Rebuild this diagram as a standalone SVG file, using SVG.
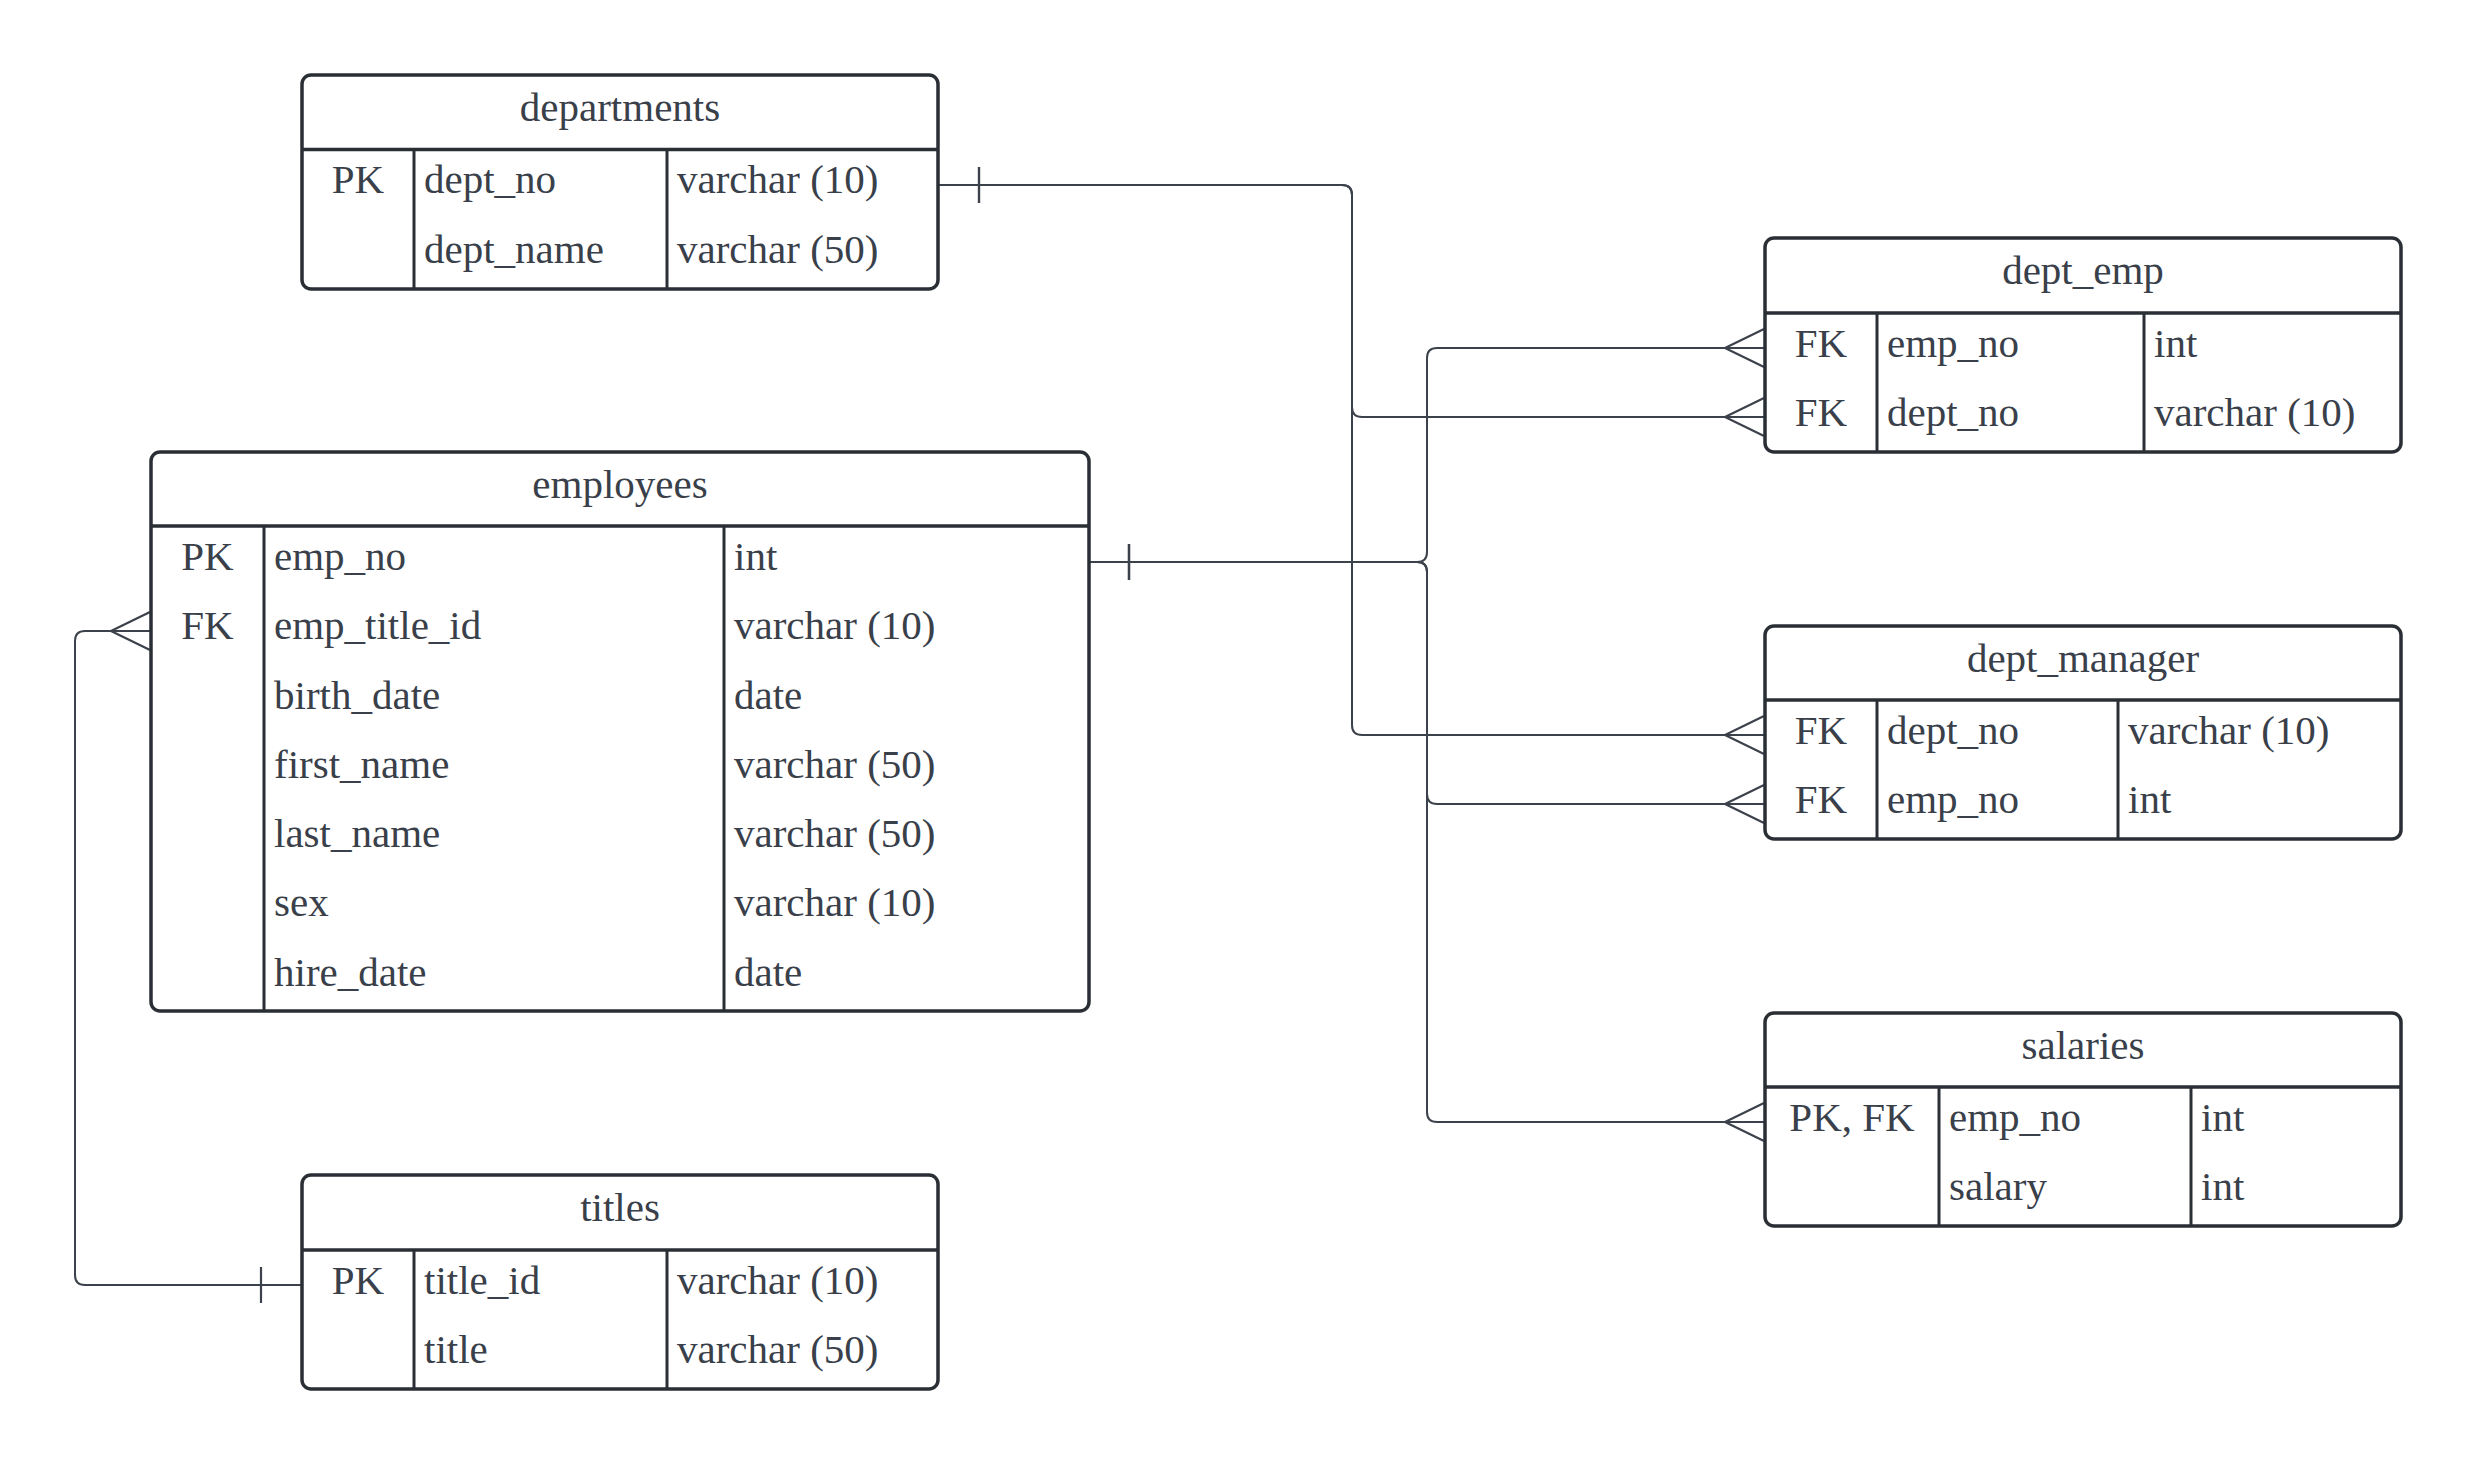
<svg xmlns="http://www.w3.org/2000/svg" width="2477" height="1464" viewBox="0 0 2477 1464">
  <style>
    .frame { fill: #ffffff; stroke: #2a2e35; stroke-width: 3.5; }
    .sep { stroke: #2a2e35; stroke-width: 3.5; }
    .col { stroke: #2a2e35; stroke-width: 3; }
    .t { font-family: "Liberation Serif", "Times New Roman", serif; font-size: 41px; fill: #39404a; }
    .h { text-anchor: middle; }
    .k { text-anchor: middle; }
    .link { fill: none; stroke: #3c424b; stroke-width: 2; }
    .mk { fill: none; stroke: #3c424b; stroke-width: 2.2; }
  </style>
  <defs>
    <!-- crow's foot (many) at the end of a relationship line -->
    <marker id="many" markerUnits="userSpaceOnUse" orient="auto" overflow="visible" markerWidth="1" markerHeight="1" refX="0" refY="0">
      <path class="mk" d="M0 -19 L-39 0 L0 19"/>
    </marker>
    <!-- single bar (one) near the start of a relationship line -->
    <marker id="one" markerUnits="userSpaceOnUse" orient="auto" overflow="visible" markerWidth="1" markerHeight="1" refX="0" refY="0">
      <path class="mk" d="M40 -18 L40 18"/>
    </marker>
  </defs>

  <rect width="2477" height="1464" fill="#ffffff"/>

  <!-- relationships -->
  <g id="connectors">
    <!-- departments.dept_no -> dept_emp.dept_no -->
    <path class="link" marker-start="url(#one)" marker-end="url(#many)" d="M939 185 H1342 Q1352 185 1352 195 V407 Q1352 417 1362 417 H1764"/>
    <!-- departments.dept_no -> dept_manager.dept_no -->
    <path class="link" marker-start="url(#one)" marker-end="url(#many)" d="M939 185 H1342 Q1352 185 1352 195 V725 Q1352 735 1362 735 H1764"/>
    <!-- employees.emp_no -> dept_emp.emp_no -->
    <path class="link" marker-start="url(#one)" marker-end="url(#many)" d="M1089 562 H1417 Q1427 562 1427 552 V358 Q1427 348 1437 348 H1764"/>
    <!-- employees.emp_no -> dept_manager.emp_no -->
    <path class="link" marker-start="url(#one)" marker-end="url(#many)" d="M1089 562 H1417 Q1427 562 1427 572 V794 Q1427 804 1437 804 H1764"/>
    <!-- employees.emp_no -> salaries.emp_no -->
    <path class="link" marker-start="url(#one)" marker-end="url(#many)" d="M1089 562 H1417 Q1427 562 1427 572 V1112 Q1427 1122 1437 1122 H1764"/>
    <!-- titles.title_id -> employees.emp_title_id -->
    <path class="link" marker-start="url(#one)" marker-end="url(#many)" d="M301 1285 H85 Q75 1285 75 1275 V641 Q75 631 85 631 H150"/>
  </g>

  <!-- departments -->
  <g id="departments">
    <rect class="frame" x="302" y="75" width="636" height="214" rx="9"/>
    <line class="sep" x1="302" y1="149.5" x2="938" y2="149.5"/>
    <line class="col" x1="414" y1="149.5" x2="414" y2="289"/>
    <line class="col" x1="667" y1="149.5" x2="667" y2="289"/>
    <text class="t h" x="620" y="121">departments</text>
    <text class="t k" x="358" y="193">PK</text>
    <text class="t" x="424" y="193">dept_no</text>
    <text class="t" x="677" y="193">varchar (10)</text>
    <text class="t" x="424" y="263">dept_name</text>
    <text class="t" x="677" y="263">varchar (50)</text>
  </g>

  <!-- employees -->
  <g id="employees">
    <rect class="frame" x="151" y="452" width="938" height="559" rx="9"/>
    <line class="sep" x1="151" y1="526" x2="1089" y2="526"/>
    <line class="col" x1="264" y1="526" x2="264" y2="1011"/>
    <line class="col" x1="724" y1="526" x2="724" y2="1011"/>
    <text class="t h" x="620" y="498">employees</text>
    <text class="t k" x="207.5" y="570">PK</text>
    <text class="t k" x="207.5" y="639">FK</text>
    <text class="t" x="274" y="570">emp_no</text>
    <text class="t" x="274" y="639">emp_title_id</text>
    <text class="t" x="274" y="709">birth_date</text>
    <text class="t" x="274" y="778">first_name</text>
    <text class="t" x="274" y="847">last_name</text>
    <text class="t" x="274" y="916">sex</text>
    <text class="t" x="274" y="986">hire_date</text>
    <text class="t" x="734" y="570">int</text>
    <text class="t" x="734" y="639">varchar (10)</text>
    <text class="t" x="734" y="709">date</text>
    <text class="t" x="734" y="778">varchar (50)</text>
    <text class="t" x="734" y="847">varchar (50)</text>
    <text class="t" x="734" y="916">varchar (10)</text>
    <text class="t" x="734" y="986">date</text>
  </g>

  <!-- titles -->
  <g id="titles">
    <rect class="frame" x="302" y="1175" width="636" height="214" rx="9"/>
    <line class="sep" x1="302" y1="1250" x2="938" y2="1250"/>
    <line class="col" x1="414" y1="1250" x2="414" y2="1389"/>
    <line class="col" x1="667" y1="1250" x2="667" y2="1389"/>
    <text class="t h" x="620" y="1221">titles</text>
    <text class="t k" x="358" y="1294">PK</text>
    <text class="t" x="424" y="1294">title_id</text>
    <text class="t" x="677" y="1294">varchar (10)</text>
    <text class="t" x="424" y="1363">title</text>
    <text class="t" x="677" y="1363">varchar (50)</text>
  </g>

  <!-- dept_emp -->
  <g id="dept_emp">
    <rect class="frame" x="1765" y="238" width="636" height="214" rx="9"/>
    <line class="sep" x1="1765" y1="313" x2="2401" y2="313"/>
    <line class="col" x1="1877" y1="313" x2="1877" y2="452"/>
    <line class="col" x1="2144" y1="313" x2="2144" y2="452"/>
    <text class="t h" x="2083" y="284">dept_emp</text>
    <text class="t k" x="1821" y="357">FK</text>
    <text class="t k" x="1821" y="426">FK</text>
    <text class="t" x="1887" y="357">emp_no</text>
    <text class="t" x="1887" y="426">dept_no</text>
    <text class="t" x="2154" y="357">int</text>
    <text class="t" x="2154" y="426">varchar (10)</text>
  </g>

  <!-- dept_manager -->
  <g id="dept_manager">
    <rect class="frame" x="1765" y="626" width="636" height="213" rx="9"/>
    <line class="sep" x1="1765" y1="700" x2="2401" y2="700"/>
    <line class="col" x1="1877" y1="700" x2="1877" y2="839"/>
    <line class="col" x1="2118" y1="700" x2="2118" y2="839"/>
    <text class="t h" x="2083" y="672">dept_manager</text>
    <text class="t k" x="1821" y="744">FK</text>
    <text class="t k" x="1821" y="813">FK</text>
    <text class="t" x="1887" y="744">dept_no</text>
    <text class="t" x="1887" y="813">emp_no</text>
    <text class="t" x="2128" y="744">varchar (10)</text>
    <text class="t" x="2128" y="813">int</text>
  </g>

  <!-- salaries -->
  <g id="salaries">
    <rect class="frame" x="1765" y="1013" width="636" height="213" rx="9"/>
    <line class="sep" x1="1765" y1="1087" x2="2401" y2="1087"/>
    <line class="col" x1="1939" y1="1087" x2="1939" y2="1226"/>
    <line class="col" x1="2191" y1="1087" x2="2191" y2="1226"/>
    <text class="t h" x="2083" y="1059">salaries</text>
    <text class="t k" x="1852" y="1131">PK, FK</text>
    <text class="t" x="1949" y="1131">emp_no</text>
    <text class="t" x="1949" y="1200">salary</text>
    <text class="t" x="2201" y="1131">int</text>
    <text class="t" x="2201" y="1200">int</text>
  </g>
</svg>
